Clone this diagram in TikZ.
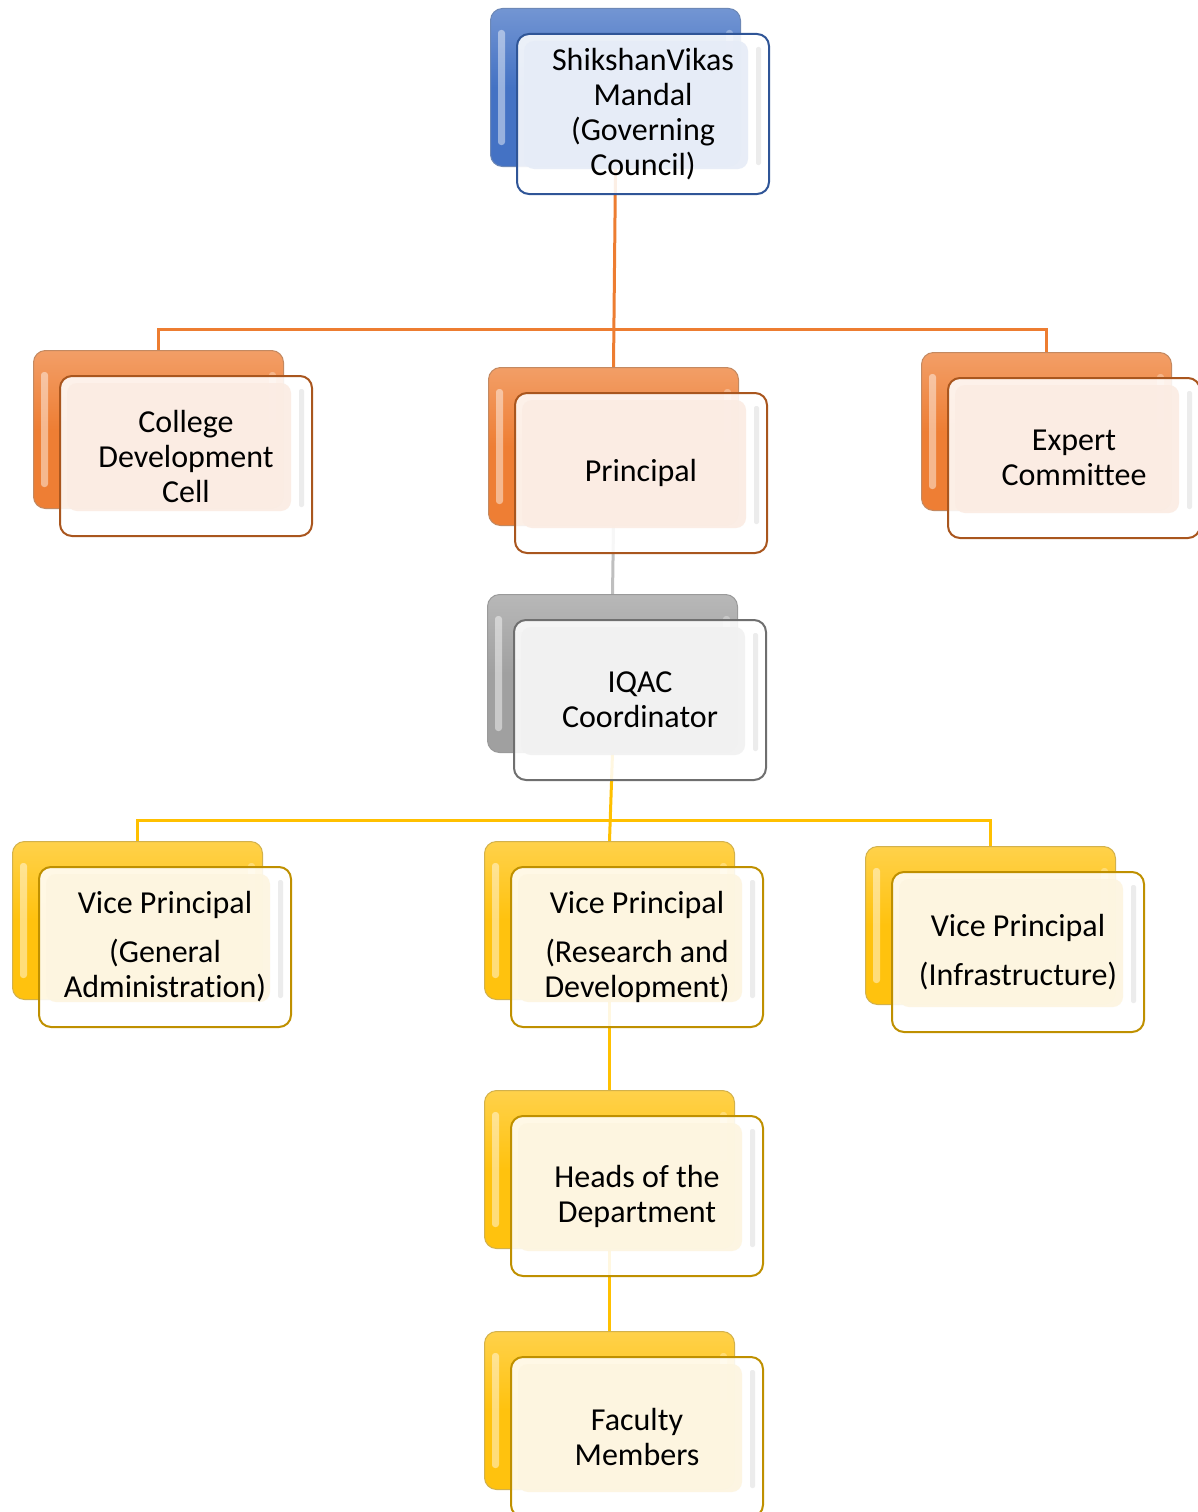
\documentclass[tikz,border=0pt]{standalone}
\usepackage{fontspec}
\setmainfont{Carlito}[Ligatures=NoCommon]
\usetikzlibrary{backgrounds}
\definecolor{blueback}{HTML}{4472C4}
\definecolor{blueedge}{HTML}{2F5597}
\definecolor{bluetint}{HTML}{E6ECF7}
\definecolor{orangeback}{HTML}{EE7E34}
\definecolor{orangeedge}{HTML}{A9561E}
\definecolor{orangetint}{HTML}{FBECE3}
\definecolor{grayback}{HTML}{A0A0A0}
\definecolor{grayedge}{HTML}{6F6F6F}
\definecolor{graytint}{HTML}{F1F1F1}
\definecolor{yellowback}{HTML}{FFC20E}
\definecolor{yellowedge}{HTML}{BF9000}
\definecolor{yellowtint}{HTML}{FDF5E0}
\definecolor{orangeline}{HTML}{ED7D31}
\definecolor{grayline}{HTML}{BFBFBF}
\definecolor{yellowline}{HTML}{FFC000}
\newcommand\orgunit[5]{%
  \node[backbox, draw=#4edge!70, line width=1pt, top color=#4back!75!white, bottom color=#4back, middle color=#4back] (#1b) at (#2,#3) {};
  \fill[white, opacity=0.45, rounded corners=3pt] ([shift={(8,22)}]#1b.north west) rectangle ([shift={(15,-22)}]#1b.south west);
  \fill[white, opacity=0.3, rounded corners=3pt] ([shift={(-15,22)}]#1b.north east) rectangle ([shift={(-8,-22)}]#1b.south east);
  \node[frontbox, draw=#4edge, fill=white, fill opacity=0.88] (#1) at ([shift={(26,25)}]#1b.north west) {};
  \fill[#4tint, opacity=0.9, rounded corners=10pt] ([shift={(8,8)}]#1.north west) rectangle ([shift={(-22,-26)}]#1.south east);
  \fill[black!12, opacity=0.6, rounded corners=2pt] ([shift={(-14,14)}]#1.north east) rectangle ([shift={(-9,-30)}]#1.south east);
  \node[lbl] at (#1.center) {#5};
}
\begin{document}
\begin{tikzpicture}[x=1pt,y=-1pt,
  conn/.style={line width=3pt},
  backbox/.style={rounded corners=12pt, minimum width=250pt, minimum height=158pt, anchor=north west, inner sep=0pt},
  frontbox/.style={rounded corners=12pt, minimum width=252pt, minimum height=160pt, anchor=north west, inner sep=0pt, line width=2pt},
  lbl/.style={font=\fontsize{32}{35}\selectfont, align=center, text=black}]
\useasboundingbox (0,0) rectangle (1198,1512);
\orgunit{sm}{490}{8}{blue}{ShikshanVikas\\Mandal\\(Governing\\Council)}
\orgunit{cdc}{33}{350}{orange}{College\\Development\\Cell}
\orgunit{pr}{488}{367}{orange}{Principal}
\orgunit{exp}{921}{352}{orange}{Expert\\Committee}
\orgunit{iq}{487}{594}{gray}{IQAC\\Coordinator}
\orgunit{vpg}{12}{841}{yellow}{Vice Principal\\[14pt](General\\Administration)}
\orgunit{vpr}{484}{841}{yellow}{Vice Principal\\[14pt](Research and\\Development)}
\orgunit{vpi}{865}{846}{yellow}{Vice Principal\\[14pt](Infrastructure)}
\orgunit{hod}{484}{1090}{yellow}{Heads of the\\Department}
\orgunit{fac}{484}{1331}{yellow}{Faculty\\Members}
\begin{scope}[on background layer]
  \coordinate (hy) at (0,329);
  \coordinate (hy2) at (0,820);
  \draw[conn, orangeline] (smb.south) -- (prb.north);
  \draw[conn, orangeline] (cdcb.north) -- (cdcb.north |- hy) -- (expb.north |- hy) -- (expb.north);
  \draw[conn, grayline] (prb.south) -- (iqb.north);
  \draw[conn, yellowline] (iqb.south) -- (vprb.north);
  \draw[conn, yellowline] (vpgb.north) -- (vpgb.north |- hy2) -- (vpib.north |- hy2) -- (vpib.north);
  \draw[conn, yellowline] (vprb.south) -- (hodb.north);
  \draw[conn, yellowline] (hodb.south) -- (facb.north);
\end{scope}
\end{tikzpicture}
\end{document}
